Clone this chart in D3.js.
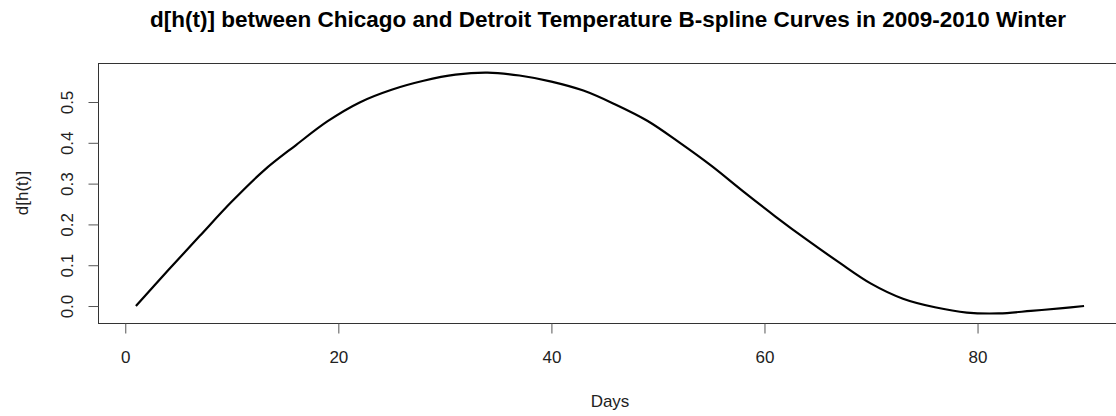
<!DOCTYPE html>
<html>
<head>
<meta charset="utf-8">
<script src="https://cdn.jsdelivr.net/npm/d3@7"></script>
<style>
  body { margin: 0; background: #fff; }
  text { font-family: "Liberation Sans", Arial, sans-serif; fill: #222; }
</style>
</head>
<body>
<div id="chart"></div>
<script>
const days = [1, 4, 7, 10, 13, 16, 19, 22, 25, 28, 31, 34, 37, 40, 43, 46, 49, 52, 55, 58, 61, 64, 67, 70, 73, 76, 79, 82, 85, 88, 90];
const dht = [0.0, 0.087, 0.172, 0.256, 0.332, 0.394, 0.453, 0.499, 0.530, 0.552, 0.567, 0.572, 0.565, 0.550, 0.528, 0.494, 0.454, 0.401, 0.344, 0.281, 0.220, 0.162, 0.107, 0.055, 0.018, -0.003, -0.016, -0.018, -0.012, -0.005, 0.0];
const xTicks = [0, 20, 40, 60, 80];
const yTicks = [0.0, 0.1, 0.2, 0.3, 0.4, 0.5];

const title = 'd[h(t)] between Chicago and Detroit Temperature B-spline Curves in 2009-2010 Winter';

const width = 1116, height = 416;
const plotL = 98, plotR = 1122, plotT = 63, plotB = 323;

const svg = d3.select('#chart').append('svg')
  .attr('width', width).attr('height', height);

// R style: pad data range by 4% on each side
const pad = (ext) => { const d = (ext[1] - ext[0]) * 0.04; return [ext[0] - d, ext[1] + d]; };

const x = d3.scaleLinear().domain(pad(d3.extent(days))).range([plotL, plotR]);
const y = d3.scaleLinear().domain(pad(d3.extent(dht))).range([plotB, plotT]);

const pts = days.map((d, i) => ({ d, v: dht[i] }));

// title
svg.append('text')
  .attr('x', 608).attr('y', 27)
  .attr('text-anchor', 'middle')
  .style('font-size', '22.5px').style('font-weight', 'bold')
  .style('fill', '#000')
  .text(title);

// plot box
svg.append('rect')
  .attr('x', plotL + 0.5).attr('y', plotT + 0.5)
  .attr('width', plotR - plotL).attr('height', plotB - plotT)
  .attr('fill', 'none').attr('stroke', '#333').attr('stroke-width', 1);

// x axis
const gx = svg.append('g').attr('transform', `translate(0,${plotB + 0.5})`)
  .call(d3.axisBottom(x).tickValues(xTicks).tickSize(10).tickPadding(17).tickFormat(d3.format('d')));
gx.select('.domain').remove();
gx.selectAll('line').attr('stroke', '#555');
gx.selectAll('text').style('font-size', '17px').style('fill', '#222').attr('font-family', null);

// y axis, labels parallel to axis
const gy = svg.append('g').attr('transform', `translate(${plotL + 0.5},0)`)
  .call(d3.axisLeft(y).tickValues(yTicks).tickSize(10).tickFormat(d3.format('.1f')));
gy.select('.domain').remove();
gy.selectAll('line').attr('stroke', '#555');
gy.selectAll('text')
  .attr('x', null).attr('dy', null)
  .attr('text-anchor', 'middle')
  .attr('transform', 'translate(-26,0) rotate(-90)')
  .style('font-size', '17px').style('fill', '#222').attr('font-family', null);

// axis titles
svg.append('text')
  .attr('x', (plotL + plotR) / 2).attr('y', 407)
  .attr('text-anchor', 'middle')
  .style('font-size', '17px')
  .text('Days');

svg.append('text')
  .attr('transform', `translate(28,${(plotT + plotB) / 2}) rotate(-90)`)
  .attr('text-anchor', 'middle')
  .style('font-size', '17px')
  .text('d[h(t)]');

// curve
const line = d3.line().x(p => x(p.d)).y(p => y(p.v)).curve(d3.curveCatmullRom.alpha(0.5));
svg.append('path')
  .datum(pts)
  .attr('d', line)
  .attr('fill', 'none')
  .attr('stroke', '#000')
  .attr('stroke-width', 2.2);
</script>
</body>
</html>
